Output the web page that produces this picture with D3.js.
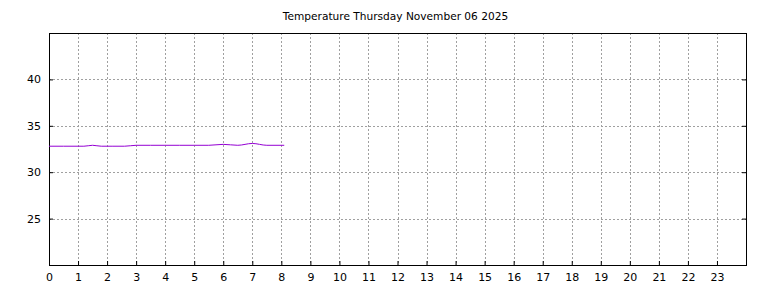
<!DOCTYPE html>
<html>
<head>
<meta charset="utf-8">
<script src="https://cdn.jsdelivr.net/npm/d3@7"></script>
<style>
  body { margin: 0; background: #fff; }
  text { font-family: "DejaVu Sans", sans-serif; }
</style>
</head>
<body>
<svg id="chart" width="768" height="288"></svg>
<script>
// chart data
const title = 'Temperature Thursday November 06 2025'
const hours = [0, 0.5, 1, 1.2, 1.5, 1.8, 2.2, 2.6, 3, 3.5, 4, 4.5, 5, 5.5, 6, 6.5, 7, 7.5, 8.1]
const temps = [32.8, 32.8, 32.8, 32.8, 32.9, 32.8, 32.8, 32.8, 32.9, 32.9, 32.9, 32.9, 32.9, 32.9, 33.0, 32.9, 33.1, 32.9, 32.9]
const xTickValues = d3.range(0, 24)
const yTickValues = [25, 30, 35, 40]

const margin = { top: 33, bottom: 23, left: 49, right: 22 }
const graphWidth = 768
const graphHeight = 288
const width = graphWidth - margin.left - margin.right
const height = graphHeight - margin.top - margin.bottom

const svg = d3.select('#chart')

//scales
const xScale = d3.scaleLinear().domain([0, 24]).range([0, width])
const yScale = d3.scaleLinear().domain([20, 45]).range([height, 0])

svg.append('text')
    .attr('x', margin.left + width / 2 - 2)
    .attr('y', 20)
    .attr('text-anchor', 'middle')
    .attr('font-size', 10.6)
    .text(title)

const chartArea = svg.append('g')
    .attr('transform', `translate(${margin.left},${margin.top})`)

//grid lines
chartArea.append('g')
    .selectAll('line')
    .data(xTickValues.filter(d => d > 0))
    .join('line')
    .attr('x1', d => Math.round(xScale(d)) + 0.5)
    .attr('x2', d => Math.round(xScale(d)) + 0.5)
    .attr('y1', 0)
    .attr('y2', height)
    .attr('stroke', '#a0a0a0')
    .attr('stroke-dasharray', '2,2')

chartArea.append('g')
    .selectAll('line')
    .data(yTickValues)
    .join('line')
    .attr('x1', 0)
    .attr('x2', width)
    .attr('y1', d => Math.round(yScale(d)) + 0.5)
    .attr('y2', d => Math.round(yScale(d)) + 0.5)
    .attr('stroke', '#a0a0a0')
    .attr('stroke-dasharray', '2,2')

//axes
const xAxis = d3.axisBottom(xScale).tickValues(xTickValues).tickSize(-4).tickPadding(8)
const yAxis = d3.axisLeft(yScale).tickValues(yTickValues).tickSize(-4).tickPadding(8)
const yAxisRight = d3.axisRight(yScale).tickValues(yTickValues).tickSize(-4).tickFormat('')

const xAxisGroup = chartArea.append('g')
    .attr('transform', `translate(0,${height})`)
    .call(xAxis)
const yAxisGroup = chartArea.append('g').call(yAxis)
const yRightGroup = chartArea.append('g')
    .attr('transform', `translate(${width},0)`)
    .call(yAxisRight)

;[xAxisGroup, yAxisGroup, yRightGroup].forEach(g => {
  g.select('.domain').remove()
  g.selectAll('text').attr('font-size', 11).attr('fill', '#000').attr('font-family', '"DejaVu Sans", sans-serif')
})

//frame
chartArea.append('rect')
    .attr('x', 0.5)
    .attr('y', 0.5)
    .attr('width', width)
    .attr('height', height)
    .attr('fill', 'none')
    .attr('stroke', '#000')

//line
const pathGenerator = d3.line()
    .x((d, i) => xScale(hours[i]))
    .y(d => yScale(d))
    .curve(d3.curveMonotoneX)

chartArea.append('path')
    .datum(temps)
    .attr('fill', 'none')
    .attr('stroke', '#9400d3')
    .attr('stroke-width', 1)
    .attr('d', pathGenerator)
</script>
</body>
</html>
